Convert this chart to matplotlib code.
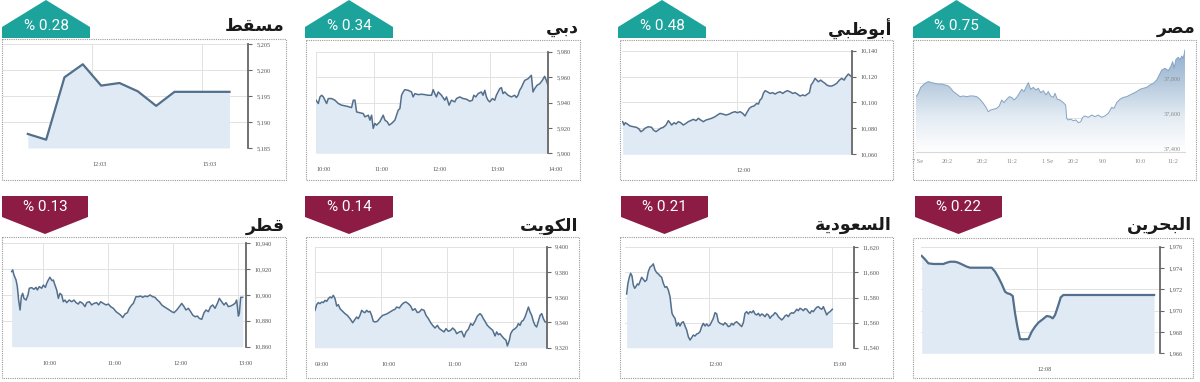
import numpy as np
import matplotlib
matplotlib.use("Agg")
import matplotlib.pyplot as plt
from matplotlib.patches import Polygon, Rectangle

W, H = 1200, 382

# ---------------- data ----------------
muscat_time = ["10:18", "10:48", "11:18", "11:48", "12:18", "12:48", "13:18", "13:48", "14:18", "14:48", "15:18", "15:48"]
muscat_value = [5187.7, 5186.6, 5198.6, 5201.1, 5197.0, 5197.5, 5195.9, 5193.1, 5195.8, 5195.8, 5195.8, 5195.8]

# (minutes after start, index value)
dubai_start = "10:00"
dubai = [(0, 5941.8), (2.4, 5939.2), (4.1, 5944.4), (5.9, 5945.7), (7.6, 5944.4), (9.3, 5941.8), (11.0, 5939.2),
         (12.7, 5943.1), (16.2, 5943.1), (19.6, 5941.8), (23.1, 5939.2), (26.5, 5937.9), (31.7, 5937.1), (36.8, 5936.0),
         (38.6, 5941.8), (40.3, 5941.8), (42.0, 5932.6), (45.4, 5931.9), (48.9, 5931.3), (50.6, 5928.7), (54.1, 5930.0),
         (55.8, 5926.1), (57.5, 5930.0), (59.2, 5919.6), (60.9, 5923.5), (62.7, 5922.2), (66.1, 5924.8), (69.5, 5930.0),
         (71.3, 5926.1), (73.7, 5924.8), (75.7, 5922.2), (78.2, 5923.5), (81.6, 5926.1), (83.3, 5930.0), (85.0, 5933.9),
         (86.8, 5935.2), (88.5, 5945.7), (90.2, 5948.3), (91.9, 5950.1), (95.4, 5949.6), (98.8, 5948.3), (100.5, 5944.4),
         (102.3, 5947.0), (105.7, 5946.2), (109.1, 5946.5), (112.6, 5946.2), (116.0, 5945.7), (119.5, 5945.7),
         (121.2, 5950.1), (122.9, 5947.0), (124.6, 5944.4), (126.4, 5948.3), (129.8, 5945.7), (133.2, 5941.8),
         (135.0, 5944.4), (137.7, 5937.9), (140.1, 5941.8), (143.6, 5940.5), (145.3, 5943.1), (148.7, 5944.4),
         (152.2, 5943.1), (155.6, 5942.6), (159.1, 5941.0), (161.8, 5941.8), (163.2, 5945.7), (165.3, 5944.4),
         (167.7, 5947.0), (171.1, 5948.3), (172.8, 5945.7), (174.6, 5949.6), (176.3, 5944.4), (178.0, 5941.8),
         (179.7, 5940.5), (182.5, 5943.1), (184.9, 5941.8), (186.6, 5945.7), (188.3, 5948.3), (190.1, 5950.9),
         (191.8, 5951.7), (193.5, 5947.0), (195.2, 5948.3), (198.7, 5945.7), (202.1, 5944.4), (205.5, 5945.7),
         (207.3, 5943.9), (209.0, 5945.7), (210.7, 5949.6), (212.4, 5951.7), (214.2, 5954.8), (215.9, 5957.4),
         (219.3, 5958.7), (222.8, 5961.4), (224.5, 5948.3), (226.2, 5950.9), (228.6, 5953.5), (231.4, 5954.8),
         (234.1, 5957.4), (236.5, 5960.6), (238.3, 5957.4), (240.0, 5953.5)]

abudhabi_start = "10:00"
abudhabi = [(0, 10085.2), (1.4, 10082.6), (2.8, 10084.4), (4.9, 10083.4), (7.7, 10081.9), (11.2, 10081.3),
            (14.7, 10080.8), (17.6, 10079.3), (19.0, 10077.5), (21.1, 10078.3), (23.5, 10080.1), (27.0, 10081.3),
            (30.5, 10080.8), (32.3, 10078.8), (35.1, 10077.5), (37.6, 10078.8), (40.0, 10080.1), (42.8, 10080.8),
            (45.6, 10082.6), (48.1, 10086.0), (49.8, 10084.4), (51.6, 10082.6), (54.1, 10084.4), (56.2, 10083.4),
            (58.6, 10085.2), (61.1, 10084.4), (63.9, 10082.6), (66.7, 10083.9), (69.1, 10085.2), (71.6, 10086.0),
            (74.4, 10087.0), (77.2, 10086.0), (79.7, 10087.8), (82.1, 10086.5), (84.9, 10085.2), (87.8, 10086.5),
            (90.2, 10087.0), (93.7, 10087.8), (97.2, 10089.0), (99.7, 10090.3), (102.5, 10091.6), (105.3, 10091.1),
            (108.8, 10090.3), (112.3, 10091.1), (114.8, 10092.1), (118.3, 10092.9), (120.7, 10092.1), (123.6, 10092.9),
            (126.4, 10091.6), (128.8, 10089.6), (130.6, 10092.1), (133.4, 10095.5), (135.8, 10096.8), (138.3, 10097.3),
            (141.1, 10099.3), (142.9, 10098.8), (144.6, 10101.9), (146.4, 10103.2), (148.1, 10107.0), (149.9, 10109.1),
            (152.3, 10108.3), (155.1, 10107.0), (158.0, 10107.6), (160.4, 10106.5), (162.9, 10107.6), (165.7, 10108.3),
            (168.5, 10107.0), (170.9, 10108.3), (173.4, 10109.1), (176.2, 10108.3), (179.0, 10107.0), (181.5, 10107.6),
            (183.9, 10106.5), (186.7, 10105.0), (189.5, 10105.8), (192.0, 10105.2), (194.5, 10106.5), (196.6, 10107.6),
            (198.3, 10113.5), (200.1, 10115.3), (202.5, 10118.6), (204.3, 10117.3), (206.0, 10116.0), (208.5, 10117.3),
            (210.6, 10116.0), (213.0, 10114.8), (214.8, 10113.5), (217.6, 10112.7), (220.1, 10112.7), (222.5, 10113.5),
            (225.3, 10114.8), (228.2, 10117.3), (230.6, 10118.6), (233.1, 10117.3), (235.2, 10119.9), (237.6, 10122.0),
            (240.1, 10120.4)]

# Egypt: position along the axis (pixels from the left edge) and index value
egypt_pos = [0, 2.3, 4.7, 7.3, 9.0, 12.3, 15.7, 19.0, 22.3, 25.7, 29.0, 32.3, 34.7, 37.3, 40.7, 44.0, 47.3, 50.7,
             54.0, 57.3, 60.7, 64.0, 67.3, 70.0, 72.3, 74.7, 77.3, 80.7, 83.3, 85.7, 88.0, 90.7, 93.3, 95.7, 98.0,
             100.7, 103.3, 105.7, 108.0, 110.0, 112.3, 114.7, 117.3, 120.0, 122.3, 124.7, 127.3, 130.0, 132.3, 134.7,
             137.3, 139.0, 141.3, 144.0, 147.3, 149.7, 150.7, 152.3, 154.7, 157.3, 160.0, 162.3, 164.7, 166.7, 169.0,
             172.3, 175.7, 179.0, 182.3, 185.7, 189.0, 192.3, 195.7, 198.0, 200.7, 204.0, 207.3, 210.7, 214.0, 217.3,
             220.7, 224.0, 227.3, 230.7, 234.0, 237.3, 240.7, 243.3, 245.7, 249.0, 252.3, 254.7, 256.7, 258.0, 260.0,
             262.3, 264.0, 265.7, 267.3, 269.0]
egypt_value = [37720, 37739, 37773, 37787, 37796, 37806, 37800, 37796, 37792, 37792, 37787, 37781, 37768, 37749,
               37735, 37720, 37724, 37720, 37724, 37724, 37720, 37705, 37682, 37659, 37634, 37644, 37648, 37653,
               37667, 37701, 37686, 37705, 37720, 37716, 37701, 37716, 37739, 37762, 37749, 37773, 37800, 37762,
               37773, 37758, 37768, 37743, 37754, 37730, 37749, 37724, 37716, 37739, 37705, 37701, 37686, 37672,
               37596, 37587, 37591, 37583, 37587, 37571, 37577, 37602, 37610, 37602, 37615, 37606, 37615, 37602,
               37610, 37625, 37659, 37653, 37686, 37705, 37716, 37720, 37730, 37739, 37749, 37762, 37768, 37773,
               37787, 37796, 37815, 37844, 37872, 37882, 37869, 37891, 37920, 37882, 37933, 37945, 37930, 37952,
               37939, 37987]
egypt_yticks = [37400, 37600, 37800]
egypt_xlabels = ["7 Se", "20:2", "20:2", "11:2", "1 Se", "20:2", "9:0", "10:0", "11:2"]
egypt_xlabel_pos = [2, 31, 66, 96, 132, 157, 187, 224, 257]

qatar_start = "09:30"
qatar_min = [1.5, 2.4, 3.6, 5.5, 6.7, 7.9, 9.2, 10.4, 11.6, 12.8, 14.7, 16.5, 17.7, 19.9, 22.0, 23.9, 25.1, 26.9,
             29.1, 30.6, 32.5, 33.7, 35.2, 36.7, 38.6, 39.8, 41.3, 42.9, 44.4, 45.9, 47.5, 49.0, 50.5, 52.1, 54.5,
             56.7, 58.8, 60.7, 62.8, 64.3, 66.8, 68.9, 70.5, 72.9, 75.1, 77.2, 79.7, 81.5, 83.3, 85.8, 88.3, 90.4,
             92.5, 95.0, 97.5, 99.6, 101.7, 103.6, 105.7, 107.9, 109.7, 111.9, 113.4, 115.8, 118.0, 120.1, 122.0,
             124.1, 126.3, 128.7, 131.2, 133.3, 135.5, 137.3, 139.5, 141.6, 144.1, 146.5, 148.7, 150.8, 153.3, 155.7,
             157.9, 160.0, 161.8, 164.0, 166.1, 168.0, 170.1, 172.3, 174.1, 176.3, 178.4, 180.2, 182.4, 184.5, 186.4,
             188.5, 190.7, 192.5, 194.6, 196.8, 198.6, 200.8, 202.9, 204.8, 206.9, 208.4, 210.0, 210.9, 212.1, 214.0]
qatar_value = [10918.1, 10919.4, 10915.5, 10911.6, 10906.5, 10896.1, 10888.4, 10898.7, 10901.3, 10897.4, 10896.1,
               10900.0, 10905.2, 10905.7, 10904.4, 10905.9, 10903.9, 10906.5, 10905.2, 10907.7, 10905.9, 10909.0,
               10911.6, 10913.7, 10911.1, 10911.6, 10907.7, 10903.9, 10897.4, 10901.3, 10900.0, 10894.8, 10896.1,
               10894.1, 10896.1, 10894.8, 10896.1, 10894.1, 10893.0, 10894.8, 10893.5, 10891.0, 10894.1, 10894.8,
               10892.3, 10893.5, 10894.1, 10892.3, 10894.8, 10893.5, 10892.3, 10893.0, 10891.0, 10889.7, 10887.1,
               10885.8, 10884.5, 10882.5, 10885.3, 10886.3, 10889.7, 10892.3, 10893.5, 10898.7, 10898.7, 10899.2,
               10898.2, 10899.2, 10898.7, 10900.0, 10898.7, 10898.2, 10896.1, 10894.8, 10892.3, 10891.0, 10889.7,
               10888.4, 10887.1, 10886.3, 10888.4, 10891.0, 10893.5, 10891.0, 10888.4, 10889.7, 10887.1, 10884.5,
               10883.2, 10883.7, 10881.9, 10881.2, 10886.3, 10888.4, 10887.1, 10891.0, 10892.3, 10889.7, 10893.5,
               10897.4, 10894.8, 10892.3, 10894.1, 10891.0, 10891.5, 10892.3, 10893.5, 10896.1, 10883.7, 10885.8,
               10898.2, 10898.2]

kuwait_start = "09:00"
kuwait_min = [0, 1.5, 3.0, 4.5, 6.1, 7.6, 9.1, 10.6, 12.1, 13.6, 15.1, 16.6, 18.2, 19.7, 21.2, 22.7, 25.1, 27.2,
              29.4, 31.8, 34.2, 35.7, 37.8, 39.3, 40.8, 42.4, 43.9, 45.4, 46.9, 48.4, 49.9, 51.4, 52.9, 54.5, 56.6,
              59.0, 61.4, 63.5, 65.7, 68.1, 70.5, 72.6, 74.1, 76.6, 78.7, 80.8, 82.6, 84.7, 86.8, 88.7, 90.8, 92.9,
              94.7, 96.8, 99.0, 100.8, 102.9, 105.0, 106.8, 108.9, 111.1, 112.9, 115.0, 117.1, 118.9, 121.0, 123.2,
              125.0, 127.1, 128.6, 131.0, 133.1, 135.3, 137.1, 139.2, 141.3, 143.1, 145.2, 147.4, 149.8, 151.3,
              152.8, 154.3, 156.4, 158.9, 161.3, 163.4, 164.9, 166.4, 167.9, 169.5, 171.6, 173.4, 174.6, 176.4,
              177.6, 179.4, 181.6, 183.1, 184.6, 186.1, 187.6, 189.1, 190.6, 192.2, 193.7, 195.2, 196.7, 198.2,
              199.7, 201.2, 202.7, 204.3, 205.8, 207.3, 208.8, 209.7]
kuwait_value = [9349.6, 9354.1, 9355.7, 9354.9, 9356.2, 9355.7, 9357.5, 9356.7, 9358.8, 9360.2, 9359.4, 9361.5,
                9358.8, 9353.0, 9354.1, 9350.9, 9348.8, 9347.0, 9345.6, 9343.0, 9339.8, 9341.7, 9344.3, 9343.0,
                9345.6, 9349.6, 9348.3, 9347.8, 9349.6, 9348.3, 9348.8, 9345.6, 9340.9, 9340.4, 9340.9, 9343.5,
                9345.6, 9346.2, 9347.0, 9348.3, 9349.6, 9350.4, 9352.2, 9351.5, 9354.1, 9355.7, 9356.2, 9354.9,
                9353.0, 9349.6, 9350.9, 9347.8, 9348.3, 9350.4, 9349.6, 9345.6, 9343.0, 9339.8, 9337.7, 9335.6,
                9337.7, 9335.1, 9333.8, 9332.5, 9335.1, 9333.0, 9333.8, 9335.6, 9333.8, 9331.1, 9332.5, 9333.0,
                9328.5, 9332.5, 9334.6, 9339.1, 9337.7, 9340.9, 9345.1, 9347.0, 9345.6, 9343.0, 9340.9, 9337.7,
                9335.6, 9333.8, 9329.3, 9332.5, 9330.3, 9331.1, 9329.3, 9327.2, 9325.9, 9321.4, 9325.9, 9331.1,
                9333.8, 9335.1, 9336.4, 9339.1, 9337.7, 9340.9, 9341.7, 9344.3, 9348.3, 9352.2, 9348.3, 9345.6,
                9340.9, 9337.7, 9336.4, 9340.9, 9345.6, 9347.0, 9343.0, 9340.4, 9340.4]

saudi_start = "10:00"
saudi = [(0, 11582.8), (1.9, 11591.3), (3.9, 11596.1), (5.8, 11599.3), (7.8, 11597.2), (9.7, 11590.0), (11.7, 11587.3),
         (13.6, 11588.7), (15.6, 11590.8), (17.5, 11590.0), (19.5, 11592.7), (21.9, 11596.1), (24.3, 11594.5),
         (26.8, 11592.7), (29.2, 11594.0), (31.6, 11600.6), (34.1, 11604.1), (36.5, 11605.2), (38.9, 11606.8),
         (41.4, 11602.0), (43.8, 11599.8), (46.2, 11598.8), (48.7, 11597.2), (51.1, 11596.1), (53.5, 11591.3),
         (56.0, 11588.1), (58.4, 11588.7), (60.8, 11586.0), (63.3, 11580.7), (64.7, 11574.0), (66.2, 11567.4),
         (68.1, 11565.3), (70.6, 11563.4), (73.0, 11557.3), (75.4, 11559.9), (77.9, 11557.3), (80.3, 11559.9),
         (82.7, 11560.7), (85.2, 11557.3), (87.6, 11554.1), (90.0, 11548.8), (92.5, 11546.1), (94.9, 11548.0),
         (97.3, 11550.1), (99.8, 11549.3), (102.2, 11550.9), (104.6, 11551.4), (107.1, 11552.8), (109.5, 11556.8),
         (111.9, 11559.4), (114.4, 11557.3), (116.8, 11558.9), (119.2, 11557.3), (121.7, 11558.1), (124.1, 11560.7),
         (126.5, 11563.4), (129.0, 11567.9), (131.4, 11566.9), (133.8, 11560.7), (136.2, 11559.4), (138.7, 11558.9),
         (141.1, 11558.1), (143.5, 11559.9), (146.0, 11558.6), (148.4, 11556.8), (150.8, 11557.3), (153.3, 11559.4),
         (155.7, 11558.1), (158.1, 11559.9), (160.6, 11560.7), (163.0, 11559.4), (165.4, 11558.1), (167.9, 11556.8),
         (170.3, 11559.9), (172.7, 11567.4), (175.2, 11568.7), (177.6, 11566.9), (180.0, 11568.7), (182.5, 11567.9),
         (184.9, 11569.5), (187.3, 11566.9), (189.8, 11566.1), (192.2, 11567.4), (194.6, 11565.3), (197.1, 11566.9),
         (199.5, 11566.1), (201.9, 11564.7), (204.4, 11566.9), (206.8, 11566.1), (209.2, 11563.4), (211.7, 11565.3),
         (214.1, 11566.1), (216.5, 11567.9), (219.0, 11566.9), (221.4, 11564.7), (223.8, 11563.4), (226.3, 11562.1),
         (228.7, 11563.4), (231.1, 11565.3), (233.6, 11566.1), (236.0, 11564.7), (238.4, 11566.9), (240.9, 11567.9),
         (243.3, 11567.4), (245.7, 11568.7), (248.2, 11570.6), (250.6, 11569.5), (253.0, 11571.4), (255.5, 11570.6),
         (257.9, 11569.5), (260.3, 11571.1), (262.8, 11570.6), (265.2, 11568.7), (267.6, 11567.4), (270.1, 11569.5),
         (272.5, 11568.7), (274.9, 11570.6), (277.4, 11572.2), (279.8, 11572.7), (282.2, 11571.4), (284.7, 11570.6),
         (287.1, 11572.7), (289.5, 11569.5), (292.0, 11566.1), (294.4, 11567.9), (296.8, 11568.7), (300.2, 11570.6)]

bahrain_start = "09:30"
bahrain = [(0, 1975.13), (4.6, 1974.81), (9.1, 1974.44), (15.9, 1974.38), (22.8, 1974.38), (29.6, 1974.38),
           (34.2, 1974.5), (38.7, 1974.59), (45.5, 1974.59), (50.1, 1974.5), (56.9, 1974.28), (61.5, 1974.13),
           (66.0, 1974.03), (72.9, 1974.03), (79.7, 1974.03), (88.8, 1974.03), (95.6, 1974.03), (100.2, 1973.66),
           (104.7, 1973.13), (109.3, 1972.5), (113.8, 1971.78), (117.0, 1971.63), (120.7, 1971.56), (124.3, 1971.38),
           (127.5, 1969.75), (130.7, 1968.5), (134.3, 1967.34), (138.9, 1967.31), (145.7, 1967.34), (150.3, 1968.03),
           (154.8, 1968.5), (159.4, 1968.88), (165.3, 1969.19), (170.8, 1969.5), (175.3, 1969.44), (179.0, 1969.28),
           (182.1, 1969.59), (186.7, 1970.53), (189.9, 1971.25), (193.5, 1971.47), (317.4, 1971.47)]

titles = ["مسقط", "دبي", "أبوظبي", "مصر", "قطر", "الكويت", "السعودية", "البحرين"]
changes = ["% 0.28", "% 0.34", "% 0.48", "% 0.75", "% 0.13", "% 0.14", "% 0.21", "% 0.22"]
rising = [True, True, True, True, False, False, False, False]

# ---------------- styling ----------------
TEAL = "#1ca39b"
MAROON = "#8d1c45"
LINE = "#536f8c"
FILL = "#dfeaf5"
GRID = "#e2e2e2"
TICK = "#555555"

# Arabic contextual forms: isolated, final, initial, medial (None = does not join forward)
FORMS = {
    "ا": ("\uFE8D", "\uFE8E", None, None), "أ": ("\uFE83", "\uFE84", None, None),
    "ب": ("\uFE8F", "\uFE90", "\uFE91", "\uFE92"), "ة": ("\uFE93", "\uFE94", None, None),
    "ت": ("\uFE95", "\uFE96", "\uFE97", "\uFE98"), "ح": ("\uFEA1", "\uFEA2", "\uFEA3", "\uFEA4"),
    "د": ("\uFEA9", "\uFEAA", None, None), "ر": ("\uFEAD", "\uFEAE", None, None),
    "س": ("\uFEB1", "\uFEB2", "\uFEB3", "\uFEB4"), "ص": ("\uFEB9", "\uFEBA", "\uFEBB", "\uFEBC"),
    "ط": ("\uFEC1", "\uFEC2", "\uFEC3", "\uFEC4"), "ظ": ("\uFEC5", "\uFEC6", "\uFEC7", "\uFEC8"),
    "ع": ("\uFEC9", "\uFECA", "\uFECB", "\uFECC"), "ق": ("\uFED5", "\uFED6", "\uFED7", "\uFED8"),
    "ك": ("\uFED9", "\uFEDA", "\uFEDB", "\uFEDC"), "ل": ("\uFEDD", "\uFEDE", "\uFEDF", "\uFEE0"),
    "م": ("\uFEE1", "\uFEE2", "\uFEE3", "\uFEE4"), "ن": ("\uFEE5", "\uFEE6", "\uFEE7", "\uFEE8"),
    "و": ("\uFEED", "\uFEEE", None, None), "ي": ("\uFEF1", "\uFEF2", "\uFEF3", "\uFEF4"),
}


def shape(word):
    # matplotlib has no Arabic shaping / bidi, so pick the joined forms and reverse
    out = []
    for i, ch in enumerate(word):
        iso, fin, ini, med = FORMS[ch]
        joins_prev = i > 0 and FORMS[word[i - 1]][2] is not None
        joins_next = i < len(word) - 1 and ini is not None
        if joins_prev and joins_next:
            out.append(med)
        elif joins_prev:
            out.append(fin)
        elif joins_next:
            out.append(ini)
        else:
            out.append(iso)
    return "".join(reversed(out))


def mins(hhmm):
    h, m = hhmm.split(":")
    return int(h) * 60 + int(m)


fig = plt.figure(figsize=(W / 100, H / 100), dpi=100)


def add_ax(l, t, r, b):
    return fig.add_axes([l / W, 1 - b / H, (r - l) / W, (b - t) / H])


def stock_panel(rect, t, v, xlim, ylim, yticks, xticks, lw=1.1):
    ax = add_ax(*rect)
    ax.fill_between(t, v, ylim[0], color=FILL, lw=0, zorder=1)
    ax.plot(t, v, color=LINE, lw=lw, zorder=2, solid_joinstyle="round")
    ax.set_xlim(xlim)
    ax.set_ylim(ylim)
    ax.yaxis.tick_right()
    ax.set_yticks(yticks)
    ax.set_yticklabels([f"{y:,}" for y in yticks], family="Liberation Serif")
    ax.set_xticks([mins(s) for s in xticks])
    ax.set_xticklabels(xticks, ha="left", family="Liberation Serif")
    ax.grid(color=GRID, lw=0.7)
    ax.set_axisbelow(True)
    for side in ["top", "left", "bottom"]:
        ax.spines[side].set_visible(False)
    ax.spines["right"].set_color("#666666")
    ax.spines["right"].set_linewidth(1.3)
    ax.tick_params(axis="y", direction="out", length=3, width=0.8, color="#666666",
                   labelsize=4.5, labelcolor=TICK, pad=3)
    ax.tick_params(axis="x", length=0, labelsize=4.5, labelcolor=TICK, pad=10)
    return ax


# Muscat
stock_panel((3, 44, 248, 148), [mins(s) for s in muscat_time], muscat_value,
            (577.4, 978.3), (5185, 5205), [5185, 5190, 5195, 5200, 5205], ["12:03", "15:03"], lw=1.6)

# Dubai
t0 = mins(dubai_start)
t, v = zip(*dubai)
stock_panel((316, 51.7, 548, 153.3), [t0 + x for x in t], v, (600, 840), (5900, 5980),
            [5900, 5920, 5940, 5960, 5980], ["10:00", "11:00", "12:00", "13:00", "14:00"])

# Abu Dhabi
t0 = mins(abudhabi_start)
t, v = zip(*abudhabi)
stock_panel((621.7, 50.7, 852, 154.3), [t0 + x for x in t], v, (599, 841.4), (10060, 10140),
            [10060, 10080, 10100, 10120, 10140], ["12:00"])

# Egypt (different chart style: gradient area, labels inside)
ax = add_ax(916, 45, 1185, 151.7)
ax.set_xlim(0, 269)
ax.set_ylim(37405.7, 38015)
ylo, yhi = ax.get_ylim()
poly = ax.fill_between(egypt_pos, egypt_value, ylo, color="none", lw=0)
grad = np.linspace(1, 0, 256).reshape(-1, 1)
cmap = matplotlib.colors.LinearSegmentedColormap.from_list("eg", ["#ffffff", "#e3ebf3", "#b3c8dc", "#8eaccb"])
im = ax.imshow(grad, extent=(0, 269, ylo, yhi), aspect="auto", cmap=cmap, origin="upper", zorder=1)
im.set_clip_path(poly.get_paths()[0], transform=ax.transData)
ax.plot(egypt_pos, egypt_value, color="#86a4c2", lw=0.7, zorder=2)
for y in egypt_yticks:
    ax.axhline(y, color=GRID, lw=0.7, zorder=0.5)
    ax.text(0.985, y + 8, f"{y:,}", transform=ax.get_yaxis_transform(), ha="right", va="bottom",
            fontsize=4.5, color="#8a8a8a", family="Liberation Serif", zorder=3)
ax.set_xticks(egypt_xlabel_pos)
ax.set_xticklabels(egypt_xlabels, family="Liberation Serif")
ax.tick_params(axis="x", length=0, labelsize=4.5, labelcolor="#8a8a8a", pad=5)
ax.set_yticks([])
for side in ["top", "left", "right"]:
    ax.spines[side].set_visible(False)
ax.spines["bottom"].set_color("#d8d8d8")

# Qatar
t0 = mins(qatar_start)
stock_panel((2, 243.3, 246, 346.7), [t0 + x for x in qatar_min], qatar_value, (562.6, 787),
            (10860, 10940), [10860, 10880, 10900, 10920, 10940], ["10:00", "11:00", "12:00", "13:00"])

# Kuwait
t0 = mins(kuwait_start)
stock_panel((315, 246.7, 546.7, 347.7), [t0 + x for x in kuwait_min], kuwait_value, (540, 750.3),
            (9320, 9400), [9320, 9340, 9360, 9380, 9400], ["09:00", "10:00", "11:00", "12:00"])

# Saudi
t0 = mins(saudi_start)
t, v = zip(*saudi)
stock_panel((625, 247.3, 854, 347.7), [t0 + x for x in t], v, (597.6, 931.8), (11540, 11620),
            [11540, 11560, 11580, 11600, 11620], ["12:00", "15:00"])

# Bahrain
t0 = mins(bahrain_start)
t, v = zip(*bahrain)
stock_panel((920.7, 246.7, 1160, 353.3), [t0 + x for x in t], v, (568.6, 895.5), (1966, 1976),
            [1966, 1968, 1970, 1972, 1974, 1976], ["12:08"], lw=1.6)

# ---------------- frames, badges, titles (pixel overlay) ----------------
ov = fig.add_axes([0, 0, 1, 1])
ov.set_xlim(0, W)
ov.set_ylim(H, 0)
ov.axis("off")
ov.patch.set_alpha(0)

boxes = [(2, 39, 286, 180), (306, 40, 580, 180), (620, 40, 893, 180), (913, 40, 1196, 180),
         (2, 237, 286, 378), (306, 237, 579, 378), (620, 237, 893, 378), (913, 238, 1193, 378)]
badges = [(2, 90), (305, 393), (618, 706), (913, 1000),
          (2, 88), (305, 393), (621, 708), (915, 1002)]
title_y = [25, 27, 28, 27, 225, 225, 224, 224]

for i, (l, t, r, b) in enumerate(boxes):
    ov.add_patch(Rectangle((l, t), r - l, b - t, fill=False, ec="#9a9a9a", lw=0.8, ls=(0, (1, 1))))
    bl, br = badges[i]
    cx = (bl + br) / 2
    if rising[i]:
        pts = [(bl, 38), (bl, 27), (cx, 0), (br, 27), (br, 38)]
        ov.add_patch(Polygon(pts, closed=True, fc=TEAL, ec="none", zorder=3))
        ty = 26
    else:
        pts = [(bl, 196), (br, 196), (br, 217), (cx, 234), (bl, 217)]
        ov.add_patch(Polygon(pts, closed=True, fc=MAROON, ec="none", zorder=3))
        ty = 207
    ov.text(cx, ty, changes[i], ha="center", va="center", color="white", fontsize=11,
            family="Roboto", zorder=4)
    ov.text(r - 1, title_y[i] + 1, shape(titles[i]), ha="right", va="center", fontsize=12.5,
            fontweight="bold", family="DejaVu Sans", color="#1a1a1a", zorder=4)

fig.savefig("out.png", dpi=100, facecolor="white")
